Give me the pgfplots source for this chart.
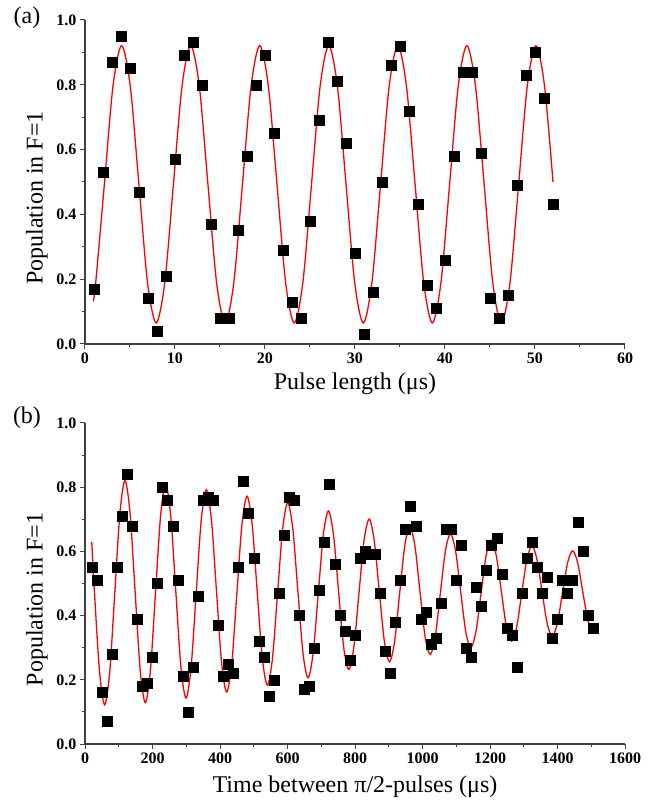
\documentclass[border=0pt]{standalone}
\usepackage{fontspec}
\setmainfont{Liberation Serif}
\usepackage{pgfplots}
\pgfplotsset{compat=1.18}

\pgfplotsset{
  panel/.style={
    scale only axis, width=540pt,
    axis x line*=bottom, axis y line*=left,
    axis line style={-, line width=1.1pt, black!75},
    tick align=outside,
    major tick length=5pt, minor tick length=3pt,
    every tick/.style={line width=1pt, black!75},
    minor x tick num=1, minor y tick num=1,
    ymin=0, ymax=1, ytick={0,0.2,...,1.0},
    yticklabel style={/pgf/number format/.cd, fixed, fixed zerofill, precision=1},
    /pgf/number format/assume math mode=true,
    /pgf/number format/1000 sep={},
    tick label style={font=\bfseries\fontsize{16}{16}\selectfont, black},
    label style={font=\fontsize{24}{27}\selectfont},
    ylabel={Population in F=1},
    ylabel style={at={(axis description cs:-0.089,0.45)}, anchor=center},
  },
  pts/.style={only marks, mark=square*, mark size=5pt, mark options={fill=black, draw=black}},
  fit/.style={red, line width=1.3pt, smooth, no marks},
}

\begin{document}
\begin{tikzpicture}
\useasboundingbox (0pt,0pt) rectangle (652pt,804pt);

% (a) Rabi oscillation
\begin{axis}[panel, at={(85pt,460pt)}, anchor=south west, height=324pt,
  xmin=0, xmax=60, xtick={0,10,...,60},
  xlabel={Pulse length (μs)},
  xlabel style={at={(axis description cs:0.5,-0.1235)}, anchor=center}]
\addplot[pts] coordinates {
(1,0.17)(2,0.53)(3,0.87)(4,0.95)(5,0.85)(6,0.47)(7,0.14)(8,0.04)(9,0.21)(10,0.57)
(11,0.89)(12,0.93)(13,0.80)(14,0.37)(15,0.08)(16,0.08)(17,0.35)(18,0.58)(19,0.80)(20,0.89)
(21,0.65)(22,0.29)(23,0.13)(24,0.08)(25,0.38)(26,0.69)(27,0.93)(28,0.81)(29,0.62)(30,0.28)
(31,0.03)(32,0.16)(33,0.50)(34,0.86)(35,0.92)(36,0.72)(37,0.43)(38,0.18)(39,0.11)(40,0.26)
(41,0.58)(42,0.84)(43,0.84)(44,0.59)(45,0.14)(46,0.08)(47,0.15)(48,0.49)(49,0.83)(50,0.90)
(51,0.76)(52,0.43)};
\addplot[fit] coordinates {
(0.93,0.132)(1.193,0.190)(2.152,0.493)(3.111,0.796)(4.070,0.921)(5.029,0.796)(5.988,0.493)
(6.947,0.190)(7.906,0.065)(8.865,0.190)(9.824,0.493)(10.783,0.796)(11.742,0.921)(12.701,0.796)
(13.660,0.493)(14.619,0.190)(15.578,0.065)(16.537,0.190)(17.496,0.493)(18.455,0.796)(19.414,0.921)
(20.373,0.796)(21.332,0.493)(22.291,0.190)(23.250,0.065)(24.209,0.190)(25.168,0.493)(26.127,0.796)
(27.086,0.921)(28.045,0.796)(29.004,0.493)(29.963,0.190)(30.922,0.065)(31.881,0.190)(32.840,0.493)
(33.799,0.796)(34.758,0.921)(35.717,0.796)(36.676,0.493)(37.635,0.190)(38.594,0.065)(39.553,0.190)
(40.512,0.493)(41.471,0.796)(42.430,0.921)(43.389,0.796)(44.348,0.493)(45.307,0.190)(46.266,0.065)
(47.225,0.190)(48.184,0.493)(49.143,0.796)(50.102,0.921)(51.061,0.796)(52.0,0.50)};
\end{axis}

% (b) Ramsey fringes
\begin{axis}[panel, at={(85pt,60pt)}, anchor=south west, height=321pt,
  xmin=0, xmax=1600, xtick={0,200,...,1600},
  xlabel={Time between π/2-pulses (μs)},
  xlabel style={at={(axis description cs:0.5,-0.134)}, anchor=center}]
\addplot[pts] coordinates {
(20,0.55)(35,0.51)(50,0.16)(65,0.07)(80,0.28)(95,0.55)(110,0.71)(125,0.84)(140,0.68)(155,0.39)
(170,0.18)(185,0.19)(200,0.27)(215,0.50)(230,0.80)(245,0.76)(260,0.68)(275,0.51)(290,0.21)(305,0.10)
(320,0.24)(335,0.46)(350,0.76)(365,0.77)(380,0.76)(395,0.37)(410,0.21)(425,0.25)(440,0.22)(455,0.55)
(470,0.82)(485,0.72)(500,0.58)(515,0.32)(530,0.27)(545,0.15)(560,0.20)(575,0.47)(590,0.65)(605,0.77)
(620,0.76)(635,0.40)(650,0.17)(665,0.18)(680,0.30)(695,0.48)(710,0.63)(725,0.81)(740,0.56)(755,0.40)
(770,0.35)(785,0.26)(800,0.34)(815,0.58)(830,0.60)(845,0.59)(860,0.59)(875,0.47)(890,0.29)(905,0.22)
(920,0.38)(935,0.51)(950,0.67)(965,0.74)(980,0.68)(995,0.39)(1010,0.41)(1025,0.31)(1040,0.33)(1055,0.44)
(1070,0.67)(1085,0.67)(1100,0.51)(1115,0.62)(1130,0.30)(1145,0.27)(1160,0.49)(1175,0.43)(1190,0.54)(1205,0.62)
(1220,0.64)(1235,0.53)(1250,0.36)(1265,0.34)(1280,0.24)(1295,0.47)(1310,0.58)(1325,0.63)(1340,0.55)(1355,0.47)
(1370,0.52)(1385,0.33)(1400,0.39)(1415,0.51)(1430,0.47)(1445,0.51)(1460,0.69)(1475,0.60)(1490,0.40)(1505,0.36)};
\addplot[fit] coordinates {
(20,0.63)(28.05,0.472)(43.13,0.225)(58.2,0.122)(73.28,0.225)(88.35,0.472)(103.43,0.719)(118.5,0.821)
(133.58,0.718)(148.65,0.472)(163.73,0.228)(178.8,0.129)(193.88,0.230)(208.95,0.472)(224.03,0.712)(239.1,0.809)
(254.18,0.709)(269.25,0.472)(284.33,0.238)(299.4,0.143)(314.48,0.241)(329.55,0.472)(344.63,0.700)(359.7,0.792)
(374.78,0.697)(389.85,0.472)(404.93,0.251)(420.0,0.162)(435.08,0.254)(450.15,0.472)(465.23,0.686)(480.3,0.772)
(495.38,0.683)(510.45,0.472)(525.53,0.266)(540.6,0.183)(555.68,0.269)(570.75,0.472)(585.83,0.672)(600.9,0.752)
(615.98,0.668)(631.05,0.472)(646.13,0.281)(661.2,0.206)(676.28,0.286)(691.35,0.472)(706.43,0.654)(721.5,0.726)
(736.58,0.649)(751.65,0.472)(766.73,0.299)(781.8,0.232)(796.88,0.304)(811.95,0.472)(827.03,0.636)(842.1,0.701)
(857.18,0.632)(872.25,0.472)(887.33,0.317)(902.4,0.256)(917.48,0.321)(932.55,0.472)(947.63,0.619)(962.7,0.677)
(977.78,0.615)(992.85,0.472)(1007.93,0.333)(1023.0,0.279)(1038.08,0.337)(1053.15,0.472)(1068.23,0.604)(1083.3,0.655)
(1098.38,0.599)(1113.45,0.472)(1128.53,0.348)(1143.6,0.300)(1158.68,0.352)(1173.75,0.472)(1188.83,0.589)(1203.9,0.635)
(1218.98,0.585)(1234.05,0.472)(1249.13,0.362)(1264.2,0.320)(1279.28,0.366)(1294.35,0.472)(1309.43,0.576)(1324.5,0.617)
(1339.58,0.573)(1354.65,0.472)(1369.73,0.374)(1384.8,0.336)(1399.88,0.377)(1414.95,0.472)(1430.03,0.565)(1445.1,0.602)
(1460.18,0.563)(1475.25,0.472)(1490.33,0.384)(1505,0.352)};
\end{axis}

\node[font=\fontsize{24}{27}\selectfont] at (27pt,786pt) {(a)};
\node[font=\fontsize{24}{27}\selectfont] at (27pt,386pt) {(b)};
\end{tikzpicture}
\end{document}
